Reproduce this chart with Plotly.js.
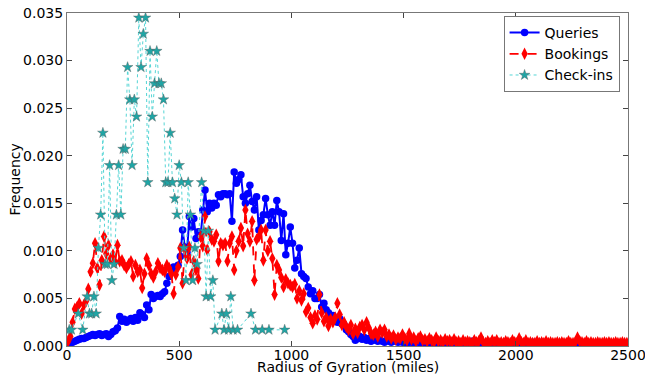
<!DOCTYPE html>
<html>
<head>
<meta charset="utf-8">
<script src="https://cdn.plot.ly/plotly-3.0.1.min.js"></script>
<style>html,body{margin:0;padding:0;background:#fff;}#chart{width:645px;height:379px;}</style>
</head>
<body>
<div id="chart"></div>
<script>
// Bin width 10 miles; bin centres start at 5 miles
var binStart = 5, binWidth = 10;

var queries = [
0.0002,0.0003,0.0004,0.0005,0.0006,0.0007,0.0008,0.0008,0.0009,0.0010,
0.0011,0.0012,0.0011,0.0012,0.0013,0.0011,0.0012,0.0013,0.0010,0.0012,
0.0015,0.0016,0.0019,0.0031,0.0026,0.0028,0.0025,0.0027,0.0029,0.0026,
0.0030,0.0027,0.0035,0.0033,0.0030,0.0043,0.0038,0.0054,0.0050,0.0052,
0.0053,0.0052,0.0055,0.0057,0.0066,0.0073,0.0080,0.0083,0.0082,0.0085,
0.0094,0.0122,0.0104,0.0098,0.0136,0.0125,0.0134,0.0113,0.0120,0.0115,
0.0143,0.0164,0.0141,0.0150,0.0145,0.0150,0.0148,0.0159,0.0157,0.0160,
0.0160,0.0159,0.0160,0.0131,0.0183,0.0171,0.0175,0.0180,0.0157,0.0150,
0.0160,0.0169,0.0152,0.0143,0.0157,0.0122,0.0132,0.0138,0.0155,0.0138,
0.0127,0.0141,0.0127,0.0153,0.0141,0.0111,0.0139,0.0096,0.0108,0.0125,
0.0108,0.0082,0.0090,0.0103,0.0076,0.0073,0.0071,0.0062,0.0055,0.0058,
0.0050,0.0050,0.0054,0.0041,0.0045,0.0038,0.0035,0.0030,0.0032,0.0027,
0.0025,0.0029,0.0023,0.0022,0.0017,0.0015,0.0012,0.0010,0.0006,0.0008,
0.0010,0.0007,0.0009,0.0006,0.0008,0.0005,0.0007,0.0006,0.0005,0.0006,
0.0005,0.0004,0.0006,0.0005,0.0004,0.0006,0.0005,0.0004,0.0005,0.0004,
0.0004,0.0003,0.0005,0.0004,0.0003,0.0004,0.0005,0.0003,0.0004,0.0003,
0.0004,0.0003,0.0003,0.0004,0.0002,0.0003,0.0004,0.0003,0.0002,0.0003,
0.0003,0.0002,0.0003,0.0004,0.0002,0.0003,0.0002,0.0003,0.0004,0.0003,
0.0005,0.0003,0.0002,0.0003,0.0004,0.0002,0.0003,0.0002,0.0003,0.0002,
0.0003,0.0002,0.0004,0.0002,0.0003,0.0002,0.0002,0.0003,0.0002,0.0003,
0.0002,0.0003,0.0002,0.0002,0.0003,0.0002,0.0002,0.0004,0.0002,0.0002,
0.0002,0.0004,0.0003,0.0002,0.0002,0.0003,0.0002,0.0002,0.0003,0.0002,
0.0002,0.0002,0.0003,0.0002,0.0002,0.0003,0.0002,0.0002,0.0002,0.0003,
0.0002,0.0003,0.0002,0.0002,0.0002,0.0003,0.0002,0.0002,0.0003,0.0002,
0.0002,0.0002,0.0003,0.0002,0.0002,0.0003,0.0002,0.0002,0.0003,0.0002
];

var bookings = [
0.0005,0.0010,0.0025,0.0039,0.0041,0.0045,0.0034,0.0043,0.0047,0.0060,
0.0078,0.0087,0.0108,0.0082,0.0064,0.0090,0.0115,0.0097,0.0106,0.0092,
0.0096,0.0088,0.0106,0.0089,0.0090,0.0085,0.0082,0.0086,0.0089,0.0073,
0.0085,0.0078,0.0080,0.0061,0.0076,0.0092,0.0085,0.0076,0.0072,0.0078,
0.0087,0.0082,0.0080,0.0078,0.0085,0.0082,0.0076,0.0055,0.0075,0.0083,
0.0103,0.0066,0.0101,0.0092,0.0104,0.0075,0.0089,0.0080,0.0071,0.0115,
0.0105,0.0136,0.0101,0.0120,0.0112,0.0110,0.0117,0.0089,0.0108,0.0106,
0.0108,0.0089,0.0108,0.0115,0.0080,0.0100,0.0110,0.0124,0.0105,0.0143,
0.0118,0.0110,0.0131,0.0069,0.0112,0.0115,0.0122,0.0090,0.0122,0.0100,
0.0110,0.0092,0.0054,0.0085,0.0080,0.0072,0.0062,0.0070,0.0066,0.0064,
0.0062,0.0065,0.0050,0.0058,0.0048,0.0055,0.0036,0.0040,0.0030,0.0024,
0.0032,0.0028,0.0054,0.0035,0.0026,0.0030,0.0021,0.0028,0.0025,0.0030,
0.0045,0.0033,0.0022,0.0025,0.0020,0.0017,0.0022,0.0013,0.0018,0.0014,
0.0020,0.0022,0.0017,0.0025,0.0019,0.0013,0.0012,0.0015,0.0010,0.0017,
0.0014,0.0017,0.0010,0.0012,0.0008,0.0011,0.0007,0.0009,0.0008,0.0012,
0.0008,0.0006,0.0013,0.0007,0.0009,0.0005,0.0008,0.0010,0.0006,0.0007,
0.0005,0.0008,0.0006,0.0004,0.0009,0.0005,0.0006,0.0004,0.0007,0.0005,
0.0006,0.0004,0.0007,0.0004,0.0005,0.0003,0.0006,0.0004,0.0005,0.0004,
0.0003,0.0006,0.0004,0.0005,0.0009,0.0004,0.0003,0.0005,0.0003,0.0006,
0.0004,0.0006,0.0003,0.0004,0.0003,0.0005,0.0004,0.0003,0.0006,0.0004,
0.0003,0.0008,0.0004,0.0003,0.0006,0.0003,0.0004,0.0003,0.0003,0.0005,
0.0003,0.0004,0.0003,0.0005,0.0003,0.0004,0.0003,0.0003,0.0004,0.0003,
0.0004,0.0003,0.0003,0.0005,0.0003,0.0003,0.0004,0.0009,0.0005,0.0004,
0.0003,0.0005,0.0003,0.0004,0.0003,0.0003,0.0004,0.0003,0.0003,0.0004,
0.0003,0.0004,0.0003,0.0003,0.0004,0.0003,0.0003,0.0004,0.0003,0.0003
];

var checkinMiles = [
10,20,50,70,90,100,110,120,130,140,150,160,170,180,190,200,210,220,230,240,
250,260,270,280,290,300,310,320,330,340,350,360,370,380,390,400,410,420,430,440,
450,460,470,480,490,500,510,520,530,540,550,560,570,580,600,610,620,630,640,650,
660,690,700,710,720,730,740,760,820,840,870,900,970
];
var checkins = [
0.0017,0.0017,0.0034,0.0017,0.0052,0.0034,0.0034,0.0052,0.0034,0.0103,
0.0138,0.0224,0.0086,0.0086,0.0190,0.0069,0.0086,0.0138,0.0190,0.0138,
0.0207,0.0207,0.0293,0.0259,0.0190,0.0259,0.0241,0.0345,0.0293,0.0328,
0.0345,0.0172,0.0310,0.0241,0.0276,0.0310,0.0276,0.0276,0.0259,0.0172,
0.0172,0.0224,0.0172,0.0155,0.0138,0.0190,0.0172,0.0103,0.0069,0.0172,
0.0138,0.0069,0.0103,0.0086,0.0172,0.0121,0.0052,0.0121,0.0052,0.0069,
0.0017,0.0034,0.0017,0.0034,0.0017,0.0052,0.0017,0.0017,0.0034,0.0017,
0.0017,0.0017,0.0017
];

var xTicks = [0,500,1000,1500,2000,2500];
var yTicks = [0,0.005,0.010,0.015,0.020,0.025,0.030,0.035];

var binX = queries.map(function(_, i){ return binStart + i*binWidth; });

var traces = [
  {x: binX, y: queries, name: 'Queries', type: 'scatter', mode: 'lines+markers',
   line: {color: '#0000ff', width: 2}, marker: {symbol: 'circle', size: 7.5, color: '#0000ff'}},
  {x: binX, y: bookings, name: 'Bookings', type: 'scatter', mode: 'lines+markers',
   line: {color: '#ff0000', width: 1.8, dash: 'dash'}, marker: {symbol: 'diamond-tall', size: 9, color: '#ff0000'}},
  {x: checkinMiles, y: checkins, name: 'Check-ins', type: 'scatter', mode: 'lines+markers',
   line: {color: '#55d5d5', width: 1, dash: 'dot'}, marker: {symbol: 'star', size: 8, color: '#1fa5a5', line: {color: '#555', width: 0.4}}}
];

var font14 = {family: 'DejaVu Sans', size: 14, color: '#000'};
var layout = {
  width: 645, height: 379,
  margin: {l: 67, r: 17, t: 13, b: 33},
  paper_bgcolor: '#fff', plot_bgcolor: '#fff',
  showlegend: true,
  legend: {x: 0.985, y: 0.991, xanchor: 'right', yanchor: 'top', bgcolor: '#fff',
           bordercolor: '#777', borderwidth: 1, font: font14, tracegroupgap: 0, itemwidth: 30},
  xaxis: {range: [0, 2500], tickvals: xTicks, ticktext: xTicks.map(String), ticks: 'inside', ticklen: 5,
          tickcolor: '#444', showline: true, linecolor: '#777', linewidth: 1, mirror: 'ticks',
          showgrid: false, zeroline: false, tickfont: font14, ticklabeloverflow: 'allow',
          ticklabelstandoff: -4, title: {text: ''}},
  yaxis: {range: [0, 0.035], tickvals: yTicks, ticktext: yTicks.map(function(v){return v.toFixed(3);}),
          ticks: 'inside', ticklen: 5, tickcolor: '#444', showline: true, linecolor: '#777', linewidth: 1,
          mirror: 'ticks', showgrid: false, zeroline: false, tickfont: font14, ticklabeloverflow: 'allow',
          title: {text: ''}},
  annotations: [
    {text: 'Radius of Gyration (miles)', xref: 'paper', yref: 'paper', x: 0.5, y: -0.062,
     xanchor: 'center', yanchor: 'middle', showarrow: false, font: font14},
    {text: 'Frequency', xref: 'paper', yref: 'paper', x: -0.0927, y: 0.5, textangle: -90,
     xanchor: 'center', yanchor: 'middle', showarrow: false, font: font14}
  ]
};

Plotly.newPlot('chart', traces, layout, {displayModeBar: false, staticPlot: true});
</script>
</body>
</html>
